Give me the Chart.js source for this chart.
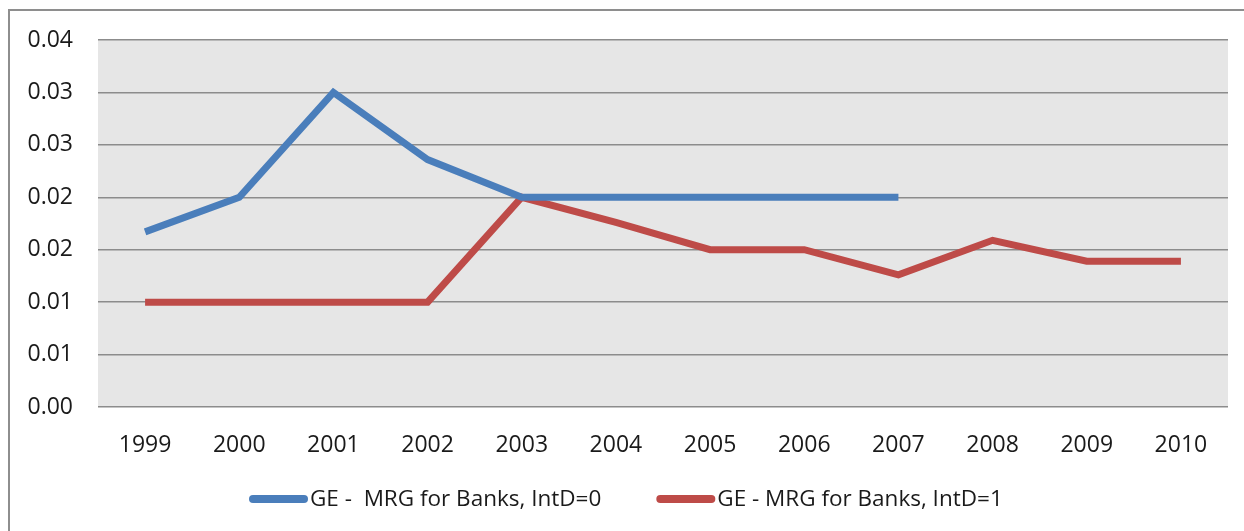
<!DOCTYPE html>
<html>
<head>
<meta charset="utf-8">
<script src="https://cdn.jsdelivr.net/npm/chart.js@4/dist/chart.umd.min.js"></script>
<style>
  html, body { margin: 0; padding: 0; background: #fff; overflow: hidden; }
  #frame { position: absolute; left: 8px; top: 9px; width: 1400px; height: 700px; border: 2px solid #8e8e8e; }
  #wrap { position: absolute; left: 0; top: 0; width: 1244px; height: 531px; }
</style>
</head>
<body>
<div id="frame"></div>
<div id="wrap"><canvas id="chart"></canvas></div>
<script>
// Data
const years = ['1999', '2000', '2001', '2002', '2003', '2004', '2005', '2006', '2007', '2008', '2009', '2010'];
const seriesIntD0 = [0.0167, 0.020, 0.030, 0.0236, 0.020, 0.020, 0.020, 0.020, 0.020, null, null, null];
const seriesIntD1 = [0.010, 0.010, 0.010, 0.010, 0.020, 0.0176, 0.015, 0.015, 0.0126, 0.0159, 0.0139, 0.0139];
const yTickLabels = ['0.00', '0.01', '0.01', '0.02', '0.02', '0.03', '0.03', '0.04'];
const seriesNames = ['GE -  MRG for Banks, IntD=0', 'GE - MRG for Banks, IntD=1'];

const blue = '#4a7ebb';
const red = '#be4b48';
const gridColor = '#8c8c8c';
const fontFamily = "'Open Sans'";

// Latar abu-abu di area plot
const plotBg = {
  id: 'plotBg',
  beforeDraw(chart) {
    const a = chart.chartArea;
    const ctx = chart.ctx;
    ctx.save();
    ctx.fillStyle = '#e6e6e6';
    ctx.fillRect(a.left, a.top, a.right - a.left, a.bottom - a.top);
    ctx.restore();
  }
};

// Legenda manual: garis tebal ujung bulat + teks langsung menempel
const lineLegend = {
  id: 'lineLegend',
  afterDraw(chart) {
    const ctx = chart.ctx;
    const y = 499;
    let x = 249;
    ctx.save();
    ctx.font = '22.5px ' + fontFamily;
    ctx.textBaseline = 'middle';
    chart.data.datasets.forEach(ds => {
      ctx.strokeStyle = ds.borderColor;
      ctx.lineWidth = 8;
      ctx.lineCap = 'round';
      ctx.beginPath();
      ctx.moveTo(x + 4, y);
      ctx.lineTo(x + 55, y);
      ctx.stroke();
      ctx.fillStyle = '#1a1a1a';
      ctx.fillText(ds.label, x + 61, y + 1);
      x += 61 + ctx.measureText(ds.label).width + 55;
    });
    ctx.restore();
  }
};

new Chart(document.getElementById('chart'), {
  type: 'line',
  data: {
    labels: years,
    datasets: [
      { label: seriesNames[0], data: seriesIntD0, borderColor: blue, backgroundColor: blue, borderWidth: 7, pointRadius: 0, tension: 0, spanGaps: false },
      { label: seriesNames[1], data: seriesIntD1, borderColor: red, backgroundColor: red, borderWidth: 7, pointRadius: 0, tension: 0 }
    ]
  },
  options: {
    responsive: true,
    maintainAspectRatio: false,
    animation: false,
    layout: { padding: { left: 0, right: 16, top: 40, bottom: 58 } },
    plugins: {
      tooltip: { enabled: false },
      legend: { display: false }
    },
    scales: {
      x: {
        offset: true,
        grid: { display: false },
        border: { display: false },
        ticks: { color: '#1a1a1a', padding: 17, maxRotation: 0, font: { family: fontFamily, size: 23 } },
        afterFit(scale) { scale.height = 66; }
      },
      y: {
        min: 0,
        max: 0.035,
        grid: { color: gridColor, lineWidth: 1.5, drawTicks: false },
        border: { display: false },
        ticks: {
          stepSize: 0.005,
          padding: 25,
          color: '#1a1a1a',
          font: { family: fontFamily, size: 23 },
          callback: (v, i) => yTickLabels[i]
        },
        afterFit(scale) { scale.width = 98; }
      }
    }
  },
  plugins: [plotBg, lineLegend]
});
</script>
</body>
</html>
